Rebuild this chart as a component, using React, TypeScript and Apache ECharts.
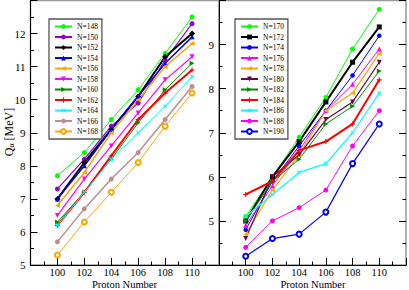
import React, { useEffect, useRef } from "react";
import * as echarts from "echarts";

const protonNumbers = [100, 102, 104, 106, 108, 110];

const leftNames = ["N=148", "N=150", "N=152", "N=154", "N=156", "N=158", "N=160", "N=162", "N=164", "N=166", "N=168"];
const leftValues = [
  [7.7, 8.4, 9.4, 10.3, 11.4, 12.5],
  [7.3, 8.2, 9.2, 9.9, 11.2, 12.3],
  [7.0, 8.1, 9.1, 10.1, 11.3, 12.0],
  [7.0, 8.0, 9.1, 10.1, 11.1, 11.9],
  [6.8, 7.8, 9.0, 10.0, 11.0, 11.7],
  [6.5, 7.6, 8.6, 9.6, 10.6, 11.3],
  [6.3, 7.2, 8.2, 9.3, 10.3, 11.1],
  [6.2, 7.2, 8.3, 9.4, 10.2, 10.9],
  [6.2, 7.2, 8.2, 9.0, 9.8, 10.7],
  [5.7, 6.7, 7.6, 8.4, 9.4, 10.4],
  [5.3, 6.3, 7.2, 8.1, 9.2, 10.2],
];

const rightNames = ["N=170", "N=172", "N=174", "N=176", "N=178", "N=180", "N=182", "N=184", "N=186", "N=188", "N=190"];
const rightValues = [
  [5.1, 6.0, 6.9, 7.8, 8.9, 9.8],
  [5.0, 6.0, 6.8, 7.7, 8.6, 9.4],
  [4.8, 5.9, 6.7, 7.5, 8.3, 9.2],
  [4.9, 5.8, 6.6, 7.5, 8.1, 8.9],
  [4.7, 5.7, 6.5, 7.5, 7.9, 8.8],
  [4.6, 6.0, 6.5, 7.3, 7.7, 8.6],
  [5.0, 5.9, 6.4, 7.2, 7.6, 8.4],
  [5.6, 5.9, 6.6, 6.8, 7.2, 8.2],
  [5.1, 5.6, 6.1, 6.3, 7.0, 7.9],
  [4.4, 5.0, 5.3, 5.7, 6.7, 7.5],
  [4.2, 4.6, 4.7, 5.2, 6.3, 7.2],
];

const PLUS = "path://M-1,-0.22 L-0.22,-0.22 L-0.22,-1 L0.22,-1 L0.22,-0.22 L1,-0.22 L1,0.22 L0.22,0.22 L0.22,1 L-0.22,1 L-0.22,0.22 L-1,0.22 Z";

type Sty = { color: string; symbol: string; rotate?: number; width: number; size?: number };

const leftStyles: Sty[] = [
  { color: "#00ff00", symbol: "circle", width: 1 },
  { color: "#9400d3", symbol: "circle", width: 1.2 },
  { color: "#000000", symbol: "diamond", width: 2, size: 6 },
  { color: "#0000ff", symbol: "triangle", width: 1.5 },
  { color: "#ffa500", symbol: "triangle", rotate: 90, width: 1.5 },
  { color: "#ff00ff", symbol: "triangle", rotate: 180, width: 1.2 },
  { color: "#008b00", symbol: "triangle", rotate: -90, width: 1 },
  { color: "#ff0000", symbol: PLUS, width: 2 },
  { color: "#00ffff", symbol: PLUS, rotate: 45, width: 1 },
  { color: "#bc8f8f", symbol: "circle", width: 1.5 },
  { color: "#ffa500", symbol: "emptyCircle", width: 1 },
];

const rightStyles: Sty[] = [
  { color: "#00ff00", symbol: "circle", width: 1 },
  { color: "#000000", symbol: "rect", width: 2 },
  { color: "#0000ff", symbol: "circle", width: 1, size: 4.5 },
  { color: "#ff00ff", symbol: "triangle", width: 1 },
  { color: "#ffa500", symbol: "triangle", rotate: 90, width: 1.2 },
  { color: "#670748", symbol: "triangle", rotate: 180, width: 1.2 },
  { color: "#008b00", symbol: "triangle", rotate: -90, width: 1 },
  { color: "#ff0000", symbol: PLUS, width: 2 },
  { color: "#00ffff", symbol: PLUS, rotate: 45, width: 1.2 },
  { color: "#ff00ff", symbol: "circle", width: 1 },
  { color: "#0000ff", symbol: "emptyCircle", width: 1.2 },
];

const FONT = "Liberation Serif";

function makeSeries(names: string[], values: number[][], styles: Sty[], axisIndex: number) {
  return names.map((name, i) => {
    const s = styles[i];
    const empty = s.symbol === "emptyCircle";
    return {
      name,
      type: "line",
      xAxisIndex: axisIndex,
      yAxisIndex: axisIndex,
      data: protonNumbers.map((p, j) => [p, values[i][j]]),
      symbol: s.symbol,
      symbolRotate: s.rotate || 0,
      symbolSize: s.size || 5,
      showAllSymbol: true,
      lineStyle: { color: s.color, width: s.width },
      itemStyle: empty ? { color: s.color, borderColor: s.color, borderWidth: 1.2 } : { color: s.color },
      emphasis: { disabled: true },
    };
  });
}

function xAxis(gridIndex: number) {
  return {
    type: "value",
    gridIndex,
    min: 98,
    max: 112,
    interval: 2,
    name: "",
    axisLine: { show: true, lineStyle: { color: "#000", width: 1 } },
    axisTick: { show: true, inside: true, length: 7, lineStyle: { color: "#000" } },
    minorTick: { show: true, splitNumber: 2, length: 3.5, lineStyle: { color: "#000" } },
    splitLine: { show: false },
    axisLabel: {
      fontFamily: FONT,
      fontSize: 10.5,
      color: "#000",
      margin: 1.5,
      formatter: (v: number) => (v === 98 || v === 112 ? "" : String(v)),
    },
  };
}

function yAxis(gridIndex: number, min: number, max: number) {
  return {
    type: "value",
    gridIndex,
    min,
    max,
    interval: 1,
    axisLine: { show: true, lineStyle: { color: "#000", width: 1 } },
    axisTick: { show: true, inside: true, length: 7, lineStyle: { color: "#000" } },
    minorTick: { show: true, splitNumber: 2, length: 3.5, lineStyle: { color: "#000" } },
    splitLine: { show: false },
    axisLabel: {
      fontFamily: FONT,
      fontSize: 11,
      color: "#000",
      margin: 5,
      formatter: (v: number) => (v === min || v === max ? (v === 5 ? "5" : "") : String(v)),
    },
  };
}

function legend(names: string[], left: number) {
  return {
    show: true,
    data: names,
    orient: "vertical",
    left,
    top: 19,
    itemWidth: 17,
    itemHeight: 6,
    itemGap: 2.5,
    padding: [3.5, 4, 3.5, 5],
    borderColor: "#555",
    borderWidth: 1.3,
    backgroundColor: "#fff",
    selectedMode: false,
    textStyle: { fontFamily: FONT, fontSize: 7.5, color: "#000", lineHeight: 7 },
  };
}

export default function App() {
  const ref = useRef<HTMLDivElement>(null);
  useEffect(() => {
    if (!ref.current) return;
    const chart = echarts.init(ref.current, null, { renderer: "svg" });
    chart.setOption({
      animation: false,
      backgroundColor: "#fff",
      textStyle: { fontFamily: FONT },
      grid: [
        { left: 30.5, top: 0.5, width: 188.5, height: 264.5, show: true, borderColor: "#999", borderWidth: 1.5 },
        { left: 219, top: 0.5, width: 188.5, height: 264.5, show: true, borderColor: "#999", borderWidth: 1.5 },
      ],
      xAxis: [xAxis(0), xAxis(1)],
      yAxis: [
        yAxis(0, 5, 13),
        yAxis(1, 4, 10),
        {
          type: "value",
          gridIndex: 1,
          min: 4,
          max: 10,
          interval: 1,
          position: "right",
          axisLine: { show: false },
          axisTick: { show: true, inside: true, length: 7, lineStyle: { color: "#000" } },
          minorTick: { show: true, splitNumber: 2, length: 3.5, lineStyle: { color: "#000" } },
          splitLine: { show: false },
          axisLabel: { show: false },
        },
      ],
      legend: [legend(leftNames, 49), legend(rightNames, 235)],
      graphic: [
        { type: "text", x: 124.5, y: 284, style: { text: "Proton Number", fontFamily: FONT, fontSize: 10.5, fill: "#000", align: "center", verticalAlign: "middle" } },
        { type: "text", x: 313, y: 284, style: { text: "Proton Number", fontFamily: FONT, fontSize: 10.5, fill: "#000", align: "center", verticalAlign: "middle" } },
        {
          type: "text",
          x: 9,
          y: 132,
          rotation: Math.PI / 2,
          style: {
            text: "{q|Q}{a|α} {q|[MeV]}",
            align: "center",
            verticalAlign: "middle",
            fill: "#000",
            fontFamily: FONT,
            rich: {
              q: { fontFamily: FONT, fontSize: 12, fill: "#000" },
              a: { fontFamily: FONT, fontSize: 8, fill: "#000", verticalAlign: "bottom", padding: [5, 0, 0, 0] },
            },
          },
        },
      ],
      series: [
        ...makeSeries(leftNames, leftValues, leftStyles, 0),
        ...makeSeries(rightNames, rightValues, rightStyles, 1),
      ],
    });
    return () => chart.dispose();
  }, []);
  return <div ref={ref} style={{ position: "fixed", left: 0, top: 0, width: 409, height: 290 }} />;
}
